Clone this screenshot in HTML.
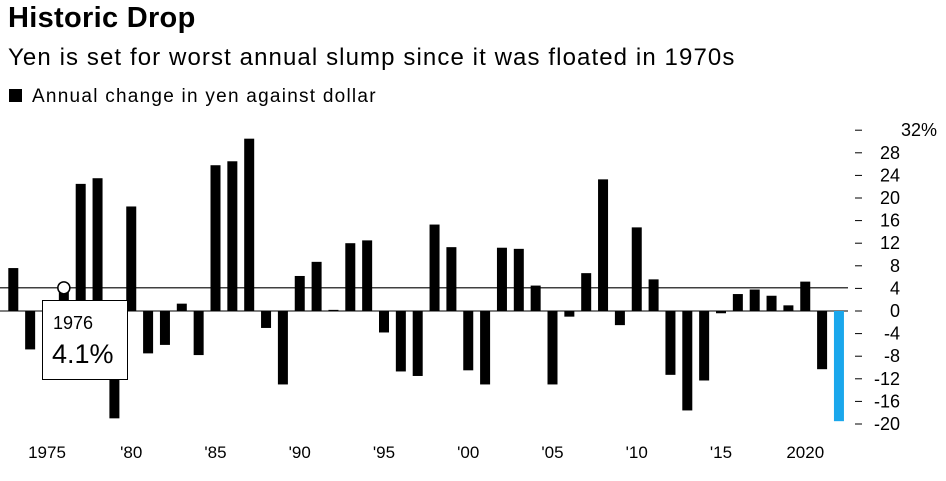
<!DOCTYPE html>
<html><head><meta charset="utf-8"><style>
body{margin:0;background:#fff;font-family:"Liberation Sans",sans-serif;}
#wrap{position:relative;width:946px;height:481px;overflow:hidden;}
.t{position:absolute;white-space:nowrap;color:#000;}
</style></head><body>
<div id="wrap">
<div class="t" style="left:8px;top:2px;font-size:29px;font-weight:bold;letter-spacing:0.3px">Historic Drop</div>
<div class="t" style="left:8px;top:44px;font-size:24px;letter-spacing:1.1px">Yen is set for worst annual slump since it was floated in 1970s</div>
<div class="t" style="left:9px;top:86px;font-size:19px;letter-spacing:1.25px"><span style="display:inline-block;width:13px;height:13px;background:#000;margin-right:10px"></span>Annual change in yen against dollar</div>
<svg id="chart" width="946" height="481" style="position:absolute;left:0;top:0"></svg>
<div style="position:absolute;left:42px;top:300px;width:84px;height:78px;border:1px solid #000;background:#fff">
<div class="t" style="left:10px;top:12px;font-size:18px">1976</div>
<div class="t" style="left:9px;top:38px;font-size:27px">4.1%</div>
</div>
</div>
<script>
const years=[1973,1974,1975,1976,1977,1978,1979,1980,1981,1982,1983,1984,1985,1986,1987,1988,1989,1990,1991,1992,1993,1994,1995,1996,1997,1998,1999,2000,2001,2002,2003,2004,2005,2006,2007,2008,2009,2010,2011,2012,2013,2014,2015,2016,2017,2018,2019,2020,2021,2022];
const values=[7.6,-6.8,-0.3,4.1,22.5,23.5,-19,18.5,-7.5,-6,1.3,-7.8,25.8,26.5,30.5,-3,-13,6.2,8.7,0.2,12,12.5,-3.8,-10.7,-11.5,15.3,11.3,-10.5,-13,11.2,11,4.5,-13,-1,6.7,23.3,-2.5,14.8,5.6,-11.3,-17.6,-12.3,-0.4,3,3.8,2.7,1,5.2,-10.3,-19.5];
const yTicks=[32,28,24,20,16,12,8,4,0,-4,-8,-12,-16,-20];
const xTicks=[1975,1980,1985,1990,1995,2000,2005,2010,2015,2020];
const xTickLabels=["1975","'80","'85","'90","'95","'00","'05","'10","'15","2020"];
const highlightYear=1976, highlightValue=4.1;
const NS="http://www.w3.org/2000/svg";
const svg=document.getElementById('chart');
const y=v=>311-v*5.65;
const x=yr=>47+(yr-1975)*16.85;
function mk(tag,attrs){const e=document.createElementNS(NS,tag);for(const k in attrs)e.setAttribute(k,attrs[k]);svg.appendChild(e);return e;}
yTicks.forEach(v=>{
  const l=mk('line',{x1:855,x2:862,y1:y(v),y2:y(v),stroke:'#000','stroke-width':1});
  
  
  const t=mk('text',{x:v===32?937:900,y:y(v)+6,'text-anchor':'end','font-size':18,'font-family':'Liberation Sans, sans-serif'});
  t.textContent=v===32?'32%':String(v);
  
  
});
const zl=mk('line',{x1:0,x2:848,y1:y(0),y2:y(0),stroke:'#000','stroke-width':1});


years.forEach((yr,i)=>{
  const v=values[i];
  const r=mk('rect',{x:x(yr)-5,width:10,y:Math.min(y(v),y(0)),height:Math.abs(y(v)-y(0)),fill:yr===2022?'#1aa7ec':'#000'});
  
  
});
const rl=mk('line',{x1:0,x2:848,y1:y(highlightValue),y2:y(highlightValue),stroke:'#000','stroke-width':1.2});


const c=mk('circle',{cx:x(highlightYear),cy:y(highlightValue),r:6,fill:'#fff',stroke:'#000','stroke-width':1.5});


xTicks.forEach((yr,i)=>{
  const t=mk('text',{x:x(yr),y:458,'text-anchor':'middle','font-size':17,'font-family':'Liberation Sans, sans-serif'});
  t.textContent=xTickLabels[i];
  
  
});
</script>
</body></html>
